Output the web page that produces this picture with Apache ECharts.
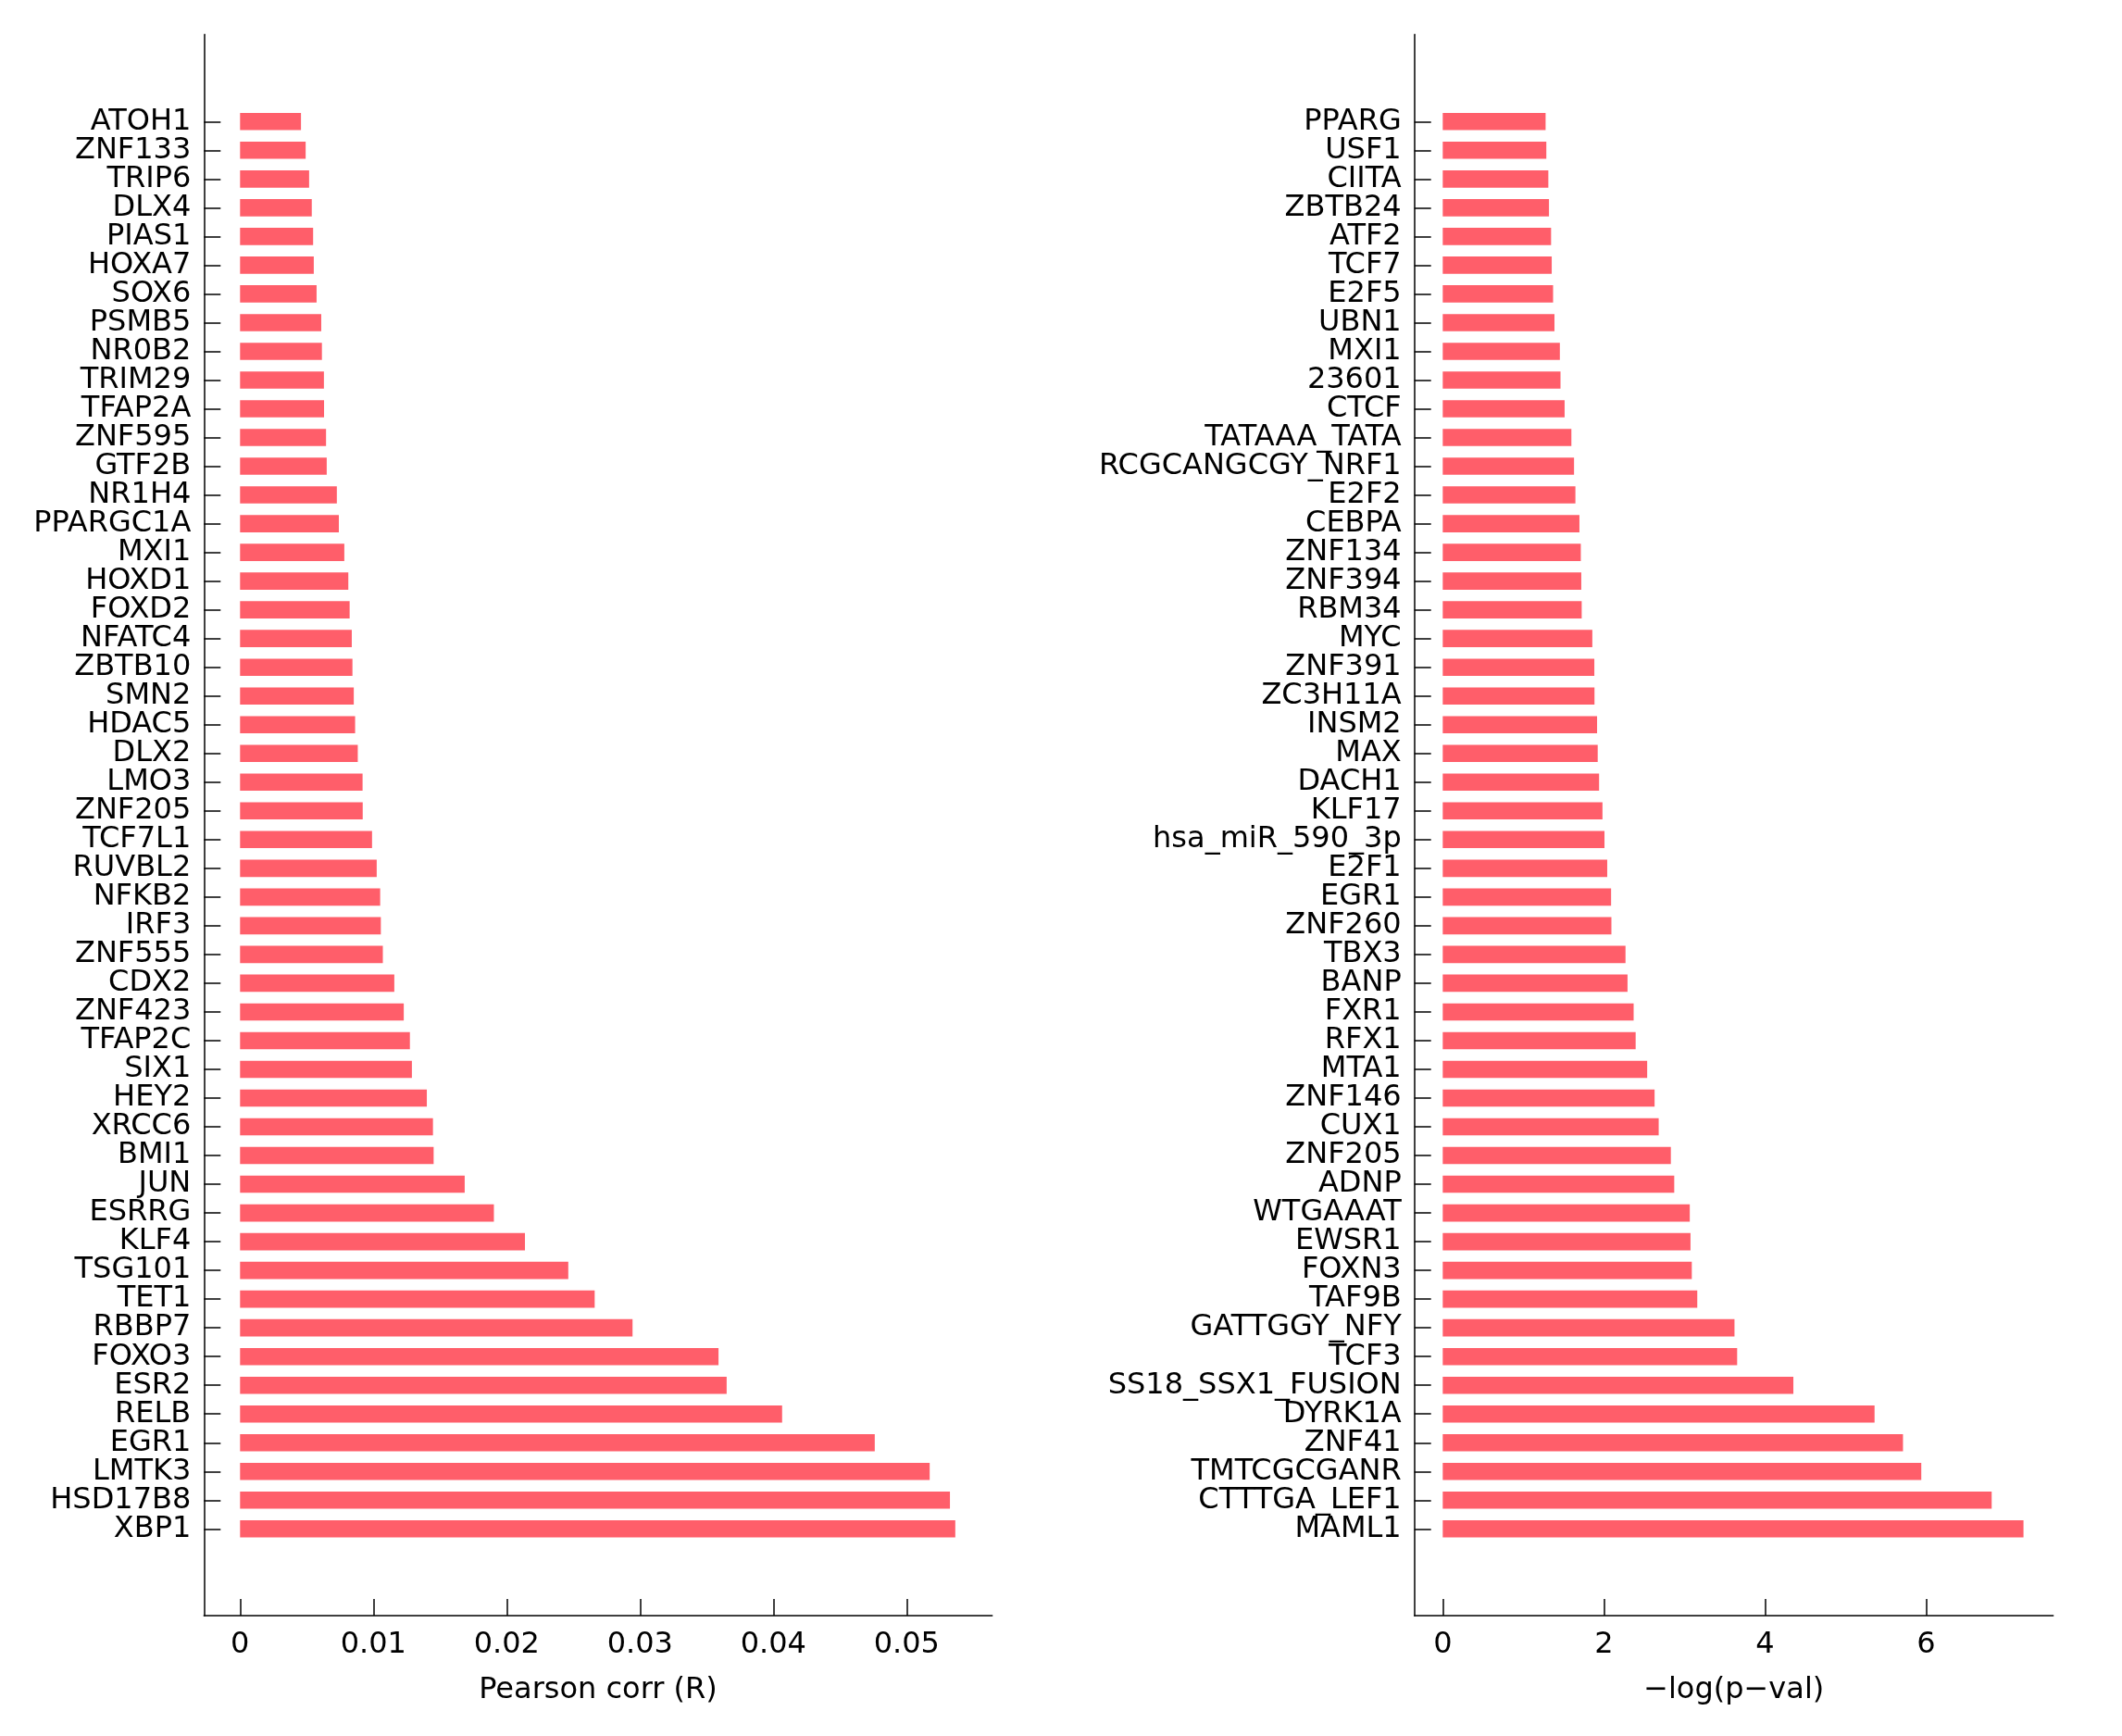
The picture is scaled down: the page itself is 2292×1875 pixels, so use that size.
<!DOCTYPE html>
<html>
<head>
<meta charset="utf-8">
<script src="https://cdn.jsdelivr.net/npm/echarts@6/dist/echarts.min.js"></script>
<style>
html,body{margin:0;padding:0;background:#fff;}
#chart{width:2292px;height:1875px;}
</style>
</head>
<body>
<div id="chart"></div>
<script>
// Left panel: Pearson correlation (top to bottom)
const leftNames = ['ATOH1','ZNF133','TRIP6','DLX4','PIAS1','HOXA7','SOX6','PSMB5','NR0B2','TRIM29','TFAP2A','ZNF595','GTF2B','NR1H4','PPARGC1A','MXI1','HOXD1','FOXD2','NFATC4','ZBTB10','SMN2','HDAC5','DLX2','LMO3','ZNF205','TCF7L1','RUVBL2','NFKB2','IRF3','ZNF555','CDX2','ZNF423','TFAP2C','SIX1','HEY2','XRCC6','BMI1','JUN','ESRRG','KLF4','TSG101','TET1','RBBP7','FOXO3','ESR2','RELB','EGR1','LMTK3','HSD17B8','XBP1'];
const leftValues = [0.00457,0.00492,0.00518,0.00538,0.00548,0.00553,0.00574,0.00609,0.00614,0.00629,0.0063,0.00645,0.0065,0.00726,0.00741,0.00782,0.00812,0.00822,0.00838,0.00843,0.00853,0.00863,0.00883,0.00919,0.0092,0.0099,0.01025,0.01051,0.01056,0.01071,0.01157,0.01228,0.01274,0.01289,0.01401,0.01447,0.01452,0.01685,0.01904,0.02137,0.02462,0.0266,0.02944,0.03589,0.0365,0.04066,0.04761,0.05173,0.05325,0.05365];
const leftTicks = [0,0.01,0.02,0.03,0.04,0.05];

// Right panel: -log(p-val) (top to bottom)
const rightNames = ['PPARG','USF1','CIITA','ZBTB24','ATF2','TCF7','E2F5','UBN1','MXI1','23601','CTCF','TATAAA_TATA','RCGCANGCGY_NRF1','E2F2','CEBPA','ZNF134','ZNF394','RBM34','MYC','ZNF391','ZC3H11A','INSM2','MAX','DACH1','KLF17','hsa_miR_590_3p','E2F1','EGR1','ZNF260','TBX3','BANP','FXR1','RFX1','MTA1','ZNF146','CUX1','ZNF205','ADNP','WTGAAAT','EWSR1','FOXN3','TAF9B','GATTGGY_NFY','TCF3','SS18_SSX1_FUSION','DYRK1A','ZNF41','TMTCGCGANR','CTTTGA_LEF1','MAML1'];
const rightValues = [1.277,1.286,1.311,1.319,1.345,1.353,1.37,1.387,1.454,1.462,1.513,1.597,1.63,1.647,1.697,1.714,1.72,1.725,1.857,1.882,1.884,1.916,1.924,1.941,1.983,2.008,2.042,2.09,2.094,2.269,2.294,2.37,2.395,2.538,2.63,2.681,2.832,2.874,3.067,3.076,3.092,3.16,3.622,3.655,4.353,5.361,5.714,5.941,6.815,7.21];
const rightTicks = [0,2,4,6];

const BAR_COLOR = '#ff5e6a';
const FONT = 'DejaVu Sans';
const idx = leftNames.map((_, i) => i);
const evenIdx = idx.filter(i => i % 2 === 0);
const oddIdx = idx.filter(i => i % 2 === 1);

function renderBar(params, api) {
  const v = api.value(0), i = api.value(1);
  const s = api.coord([0, i]);
  const e = api.coord([v, i]);
  const h = Math.abs(api.size([0, 1])[1]) * 0.6;
  return {
    type: 'rect',
    shape: { x: s[0], y: s[1] - h / 2, width: e[0] - s[0], height: h },
    style: { fill: BAR_COLOR }
  };
}

// Two label axes per panel (even / odd rows) so no label is dropped by overlap logic
function yAxisFor(gridIndex, names, labelIdx, main) {
  return {
    gridIndex, type: 'value', inverse: true, min: -3.03, max: 52.02, position: 'left', offset: 0,
    splitLine: { show: false },
    axisLine: { show: main, onZero: false, lineStyle: { color: '#000', width: 1.5 } },
    axisTick: { show: main, inside: true, length: 18, customValues: idx, lineStyle: { color: '#000', width: 1.5 } },
    axisLabel: { show: true, customValues: labelIdx, showMinLabel: true, showMaxLabel: true, hideOverlap: false,
      margin: 14, fontSize: 32, fontFamily: FONT, color: '#000',
      formatter: v => names[Math.round(v)] }
  };
}

function xAxisFor(gridIndex, min, max, ticks, name) {
  return {
    gridIndex, type: 'value', min, max,
    name, nameLocation: 'middle', nameGap: 65,
    nameTextStyle: { fontSize: 32, fontFamily: FONT, color: '#000' },
    splitLine: { show: false },
    axisLine: { show: true, onZero: false, lineStyle: { color: '#000', width: 1.5 } },
    axisTick: { show: true, inside: true, length: 18, customValues: ticks, lineStyle: { color: '#000', width: 1.5 } },
    axisLabel: { show: true, customValues: ticks, showMinLabel: true, showMaxLabel: true,
      margin: 16, fontSize: 32, fontFamily: FONT, color: '#000',
      formatter: v => String(v) }
  };
}

const chart = echarts.init(document.getElementById('chart'), null, { renderer: 'canvas' });
chart.setOption({
  backgroundColor: '#fff',
  animation: false,
  grid: [
    { left: 220.3, right: 1220.3, top: 37.3, bottom: 130, containLabel: false },
    { left: 1527.7, right: 74.3, top: 37.3, bottom: 130, containLabel: false }
  ],
  xAxis: [
    xAxisFor(0, -0.002708, 0.05642, leftTicks, 'Pearson corr (R)'),
    xAxisFor(1, -0.352, 7.579, rightTicks, '\u2212log(p\u2212val)')
  ],
  yAxis: [
    yAxisFor(0, leftNames, evenIdx, true),
    yAxisFor(0, leftNames, oddIdx, false),
    yAxisFor(1, rightNames, evenIdx, true),
    yAxisFor(1, rightNames, oddIdx, false)
  ],
  series: [
    { type: 'custom', xAxisIndex: 0, yAxisIndex: 0, renderItem: renderBar,
      encode: { x: 0, y: 1 }, data: leftValues.map((v, i) => [v, i]) },
    { type: 'custom', xAxisIndex: 1, yAxisIndex: 2, renderItem: renderBar,
      encode: { x: 0, y: 1 }, data: rightValues.map((v, i) => [v, i]) }
  ]
});
</script>
</body>
</html>
